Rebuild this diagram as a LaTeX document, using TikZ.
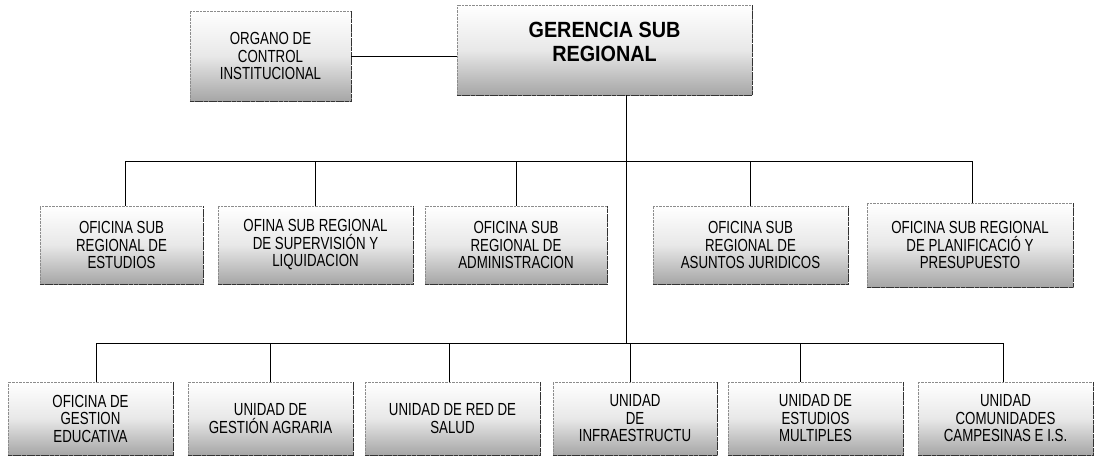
\documentclass[tikz,border=0pt]{standalone}
\usepackage{fontspec}
\setmainfont[FakeStretch=0.76]{Liberation Sans}
\newfontfamily\gerfont[FakeStretch=0.9]{Liberation Sans}
\usetikzlibrary{positioning}
\tikzset{
  unit/.style={
    rectangle, draw=black!45, densely dotted, line width=0.4pt,
    top color=white, bottom color=black!35, middle color=black!9,
    align=center, inner sep=0pt, font=\fontsize{17.5}{17.5}\selectfont
  },
  rim/.style={black!80, line width=1.2pt, dash pattern=on 4pt off 0.7pt},
  link/.style={black, line width=0.9pt}
}

\begin{document}
\begin{tikzpicture}[x=1pt, y=-1pt]
    \useasboundingbox (0,0) rectangle (1095,459);

    % top
    \node[unit, minimum width=161pt, minimum height=90pt] (oci) at (270.5,56) {ORGANO DE\\CONTROL\\INSTITUCIONAL};
    \node[unit, minimum width=295pt, minimum height=90pt,
          font=\gerfont\bfseries\fontsize{22}{24}\selectfont] (gsr) at (604.5,50) {GERENCIA SUB\\REGIONAL\\[-14pt]\strut};

    % oficinas
    \node[unit, minimum width=163pt, minimum height=78pt] (ose) at (121.5,245) {OFICINA SUB\\REGIONAL DE\\ESTUDIOS};
    \node[unit, minimum width=195pt, minimum height=78pt] (osl) at (315.5,245) {OFINA SUB REGIONAL\\DE SUPERVISIÓN Y\\LIQUIDACION};
    \node[unit, minimum width=182pt, minimum height=78pt] (osa) at (516,245) {OFICINA SUB\\REGIONAL DE\\ADMINISTRACION};
    \node[unit, minimum width=195pt, minimum height=78pt] (osj) at (750.5,245) {OFICINA SUB\\REGIONAL DE\\ASUNTOS JURIDICOS};
    \node[unit, minimum width=206pt, minimum height=84pt] (osp) at (970,245) {OFICINA SUB REGIONAL\\DE PLANIFICACIÓ Y\\PRESUPUESTO};

    % unidades
    \node[unit, minimum width=165pt, minimum height=73pt] (oge) at (90.5,418.5) {OFICINA DE\\GESTION\\EDUCATIVA};
    \node[unit, minimum width=165pt, minimum height=73pt] (uga) at (270.5,418.5) {UNIDAD DE\\GESTIÓN AGRARIA};
    \node[unit, minimum width=175pt, minimum height=73pt] (urs) at (452.5,418.5) {UNIDAD DE RED DE\\SALUD};
    \node[unit, minimum width=164pt, minimum height=73pt] (uin) at (635,418.5) {UNIDAD\\DE\\INFRAESTRUCTU};
    \node[unit, minimum width=175pt, minimum height=73pt] (uem) at (815.5,418.5) {UNIDAD DE\\ESTUDIOS\\MULTIPLES};
    \node[unit, minimum width=175pt, minimum height=73pt] (ucc) at (1005.5,418.5) {UNIDAD\\COMUNIDADES\\CAMPESINAS E  I.S.};

    % shadow edges
    \foreach \n in {oci,gsr,ose,osl,osa,osj,osp,oge,uga,urs,uin,uem,ucc}
      \draw[rim] (\n.south west) -- (\n.south east) -- (\n.north east);

    % connectors
    \coordinate (busa) at (626,161);
    \coordinate (busb) at (626,343);
    \draw[link] (oci.east) -- (oci.east -| gsr.west);
    \draw[link] (gsr.south -| busb) -- (busb);
    \draw[link] ([xshift=3.5pt]ose.north) |- ([xshift=2pt]osp.north |- busa) -- ([xshift=2pt]osp.north);
    \foreach \n in {osl,osa,osj}
      \draw[link] (\n.north) -- (\n.north |- busa);
    \draw[link] ([xshift=5.5pt]oge.north) |- ([xshift=-2.5pt]ucc.north |- busb) -- ([xshift=-2.5pt]ucc.north);
    \draw[link] (uga.north) -- (uga.north |- busb);
    \draw[link] ([xshift=-3.5pt]urs.north) -- ([xshift=-3.5pt]urs.north |- busb);
    \draw[link] ([xshift=-5pt]uin.north) -- ([xshift=-5pt]uin.north |- busb);
    \draw[link] ([xshift=-15.5pt]uem.north) -- ([xshift=-15.5pt]uem.north |- busb);
\end{tikzpicture}
\end{document}
